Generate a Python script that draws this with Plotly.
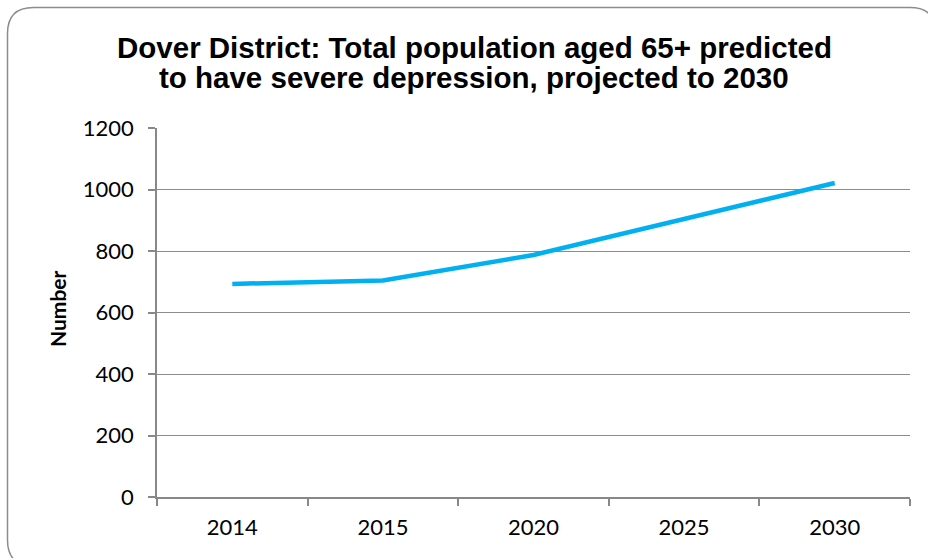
import plotly.graph_objects as go

years = ["2014", "2015", "2020", "2025", "2030"]
values = [693, 704, 787, 905, 1021]
y_ticks = [0, 200, 400, 600, 800, 1000, 1200]
title_lines = ["Dover District: Total population aged 65+ predicted",
               "to have severe depression, projected to 2030"]
y_title = "Number"

W, H = 928, 558
L, R, T, B = 157, 910, 128, 497

def px(x):
    return (x - L) / (R - L)

def py(y):
    return (B - y) / (B - T)

fig = go.Figure()
fig.add_trace(go.Scatter(x=years, y=values, mode="lines",
                         line=dict(color="#00B0F0", width=4.5, shape="linear"),
                         hoverinfo="skip", showlegend=False))

# rounded border (extends past the right/bottom edges as in the original)
x0, x1, y0, y1, r = 7.5, 936, 7.5, 566, 26
path = (f"M {px(x0+r)} {py(y0)} L {px(x1-r)} {py(y0)} "
        f"Q {px(x1)} {py(y0)} {px(x1)} {py(y0+r)} "
        f"L {px(x1)} {py(y1-r)} Q {px(x1)} {py(y1)} {px(x1-r)} {py(y1)} "
        f"L {px(x0+r)} {py(y1)} Q {px(x0)} {py(y1)} {px(x0)} {py(y1-r)} "
        f"L {px(x0)} {py(y0+r)} Q {px(x0)} {py(y0)} {px(x0+r)} {py(y0)} Z")
fig.add_shape(type="path", path=path, xref="paper", yref="paper",
              line=dict(color="#8C8C8C", width=1.5), layer="below")

for text, yc in zip(title_lines, [47, 78]):
    fig.add_annotation(text=f"<b>{text}</b>",
                       xref="paper", yref="paper", x=px(474), y=py(yc),
                       xanchor="center", yanchor="middle", showarrow=False,
                       font=dict(family="Liberation Sans, Arial", size=29.5, color="#000000"))
fig.add_annotation(text=f"<b>{y_title}</b>", textangle=-90,
                   xref="paper", yref="paper", x=px(57), y=py(309),
                   xanchor="center", yanchor="middle", showarrow=False,
                   font=dict(family="Lato, Liberation Sans", size=21, color="#000000"))

fig.update_layout(
    width=W, height=H,
    margin=dict(l=L, r=W - R, t=T, b=H - B, autoexpand=False),
    paper_bgcolor="white", plot_bgcolor="white",
    font=dict(family="Lato, Liberation Sans", size=22, color="#000000"),
    xaxis=dict(type="category", range=[-0.5, 4.5], tickson="boundaries",
               ticks="outside", ticklen=7, tickcolor="#888888", tickwidth=1.5,
               showline=True, linecolor="#888888", linewidth=1.5,
               showgrid=False, ticklabelstandoff=10, fixedrange=True, automargin=False),
    yaxis=dict(range=[0, 1200], tickvals=y_ticks, ticks="outside", ticklen=7,
               tickcolor="#888888", tickwidth=1.5, showline=True, linecolor="#888888", linewidth=1.5,
               showgrid=True, gridcolor="#8C8C8C", gridwidth=1.2, zeroline=False,
               ticklabelstandoff=10, fixedrange=True, automargin=False),
)

fig.write_html("out.html", config={"displayModeBar": False},
               post_script="document.body.style.margin='0';document.body.style.overflow='hidden';")
